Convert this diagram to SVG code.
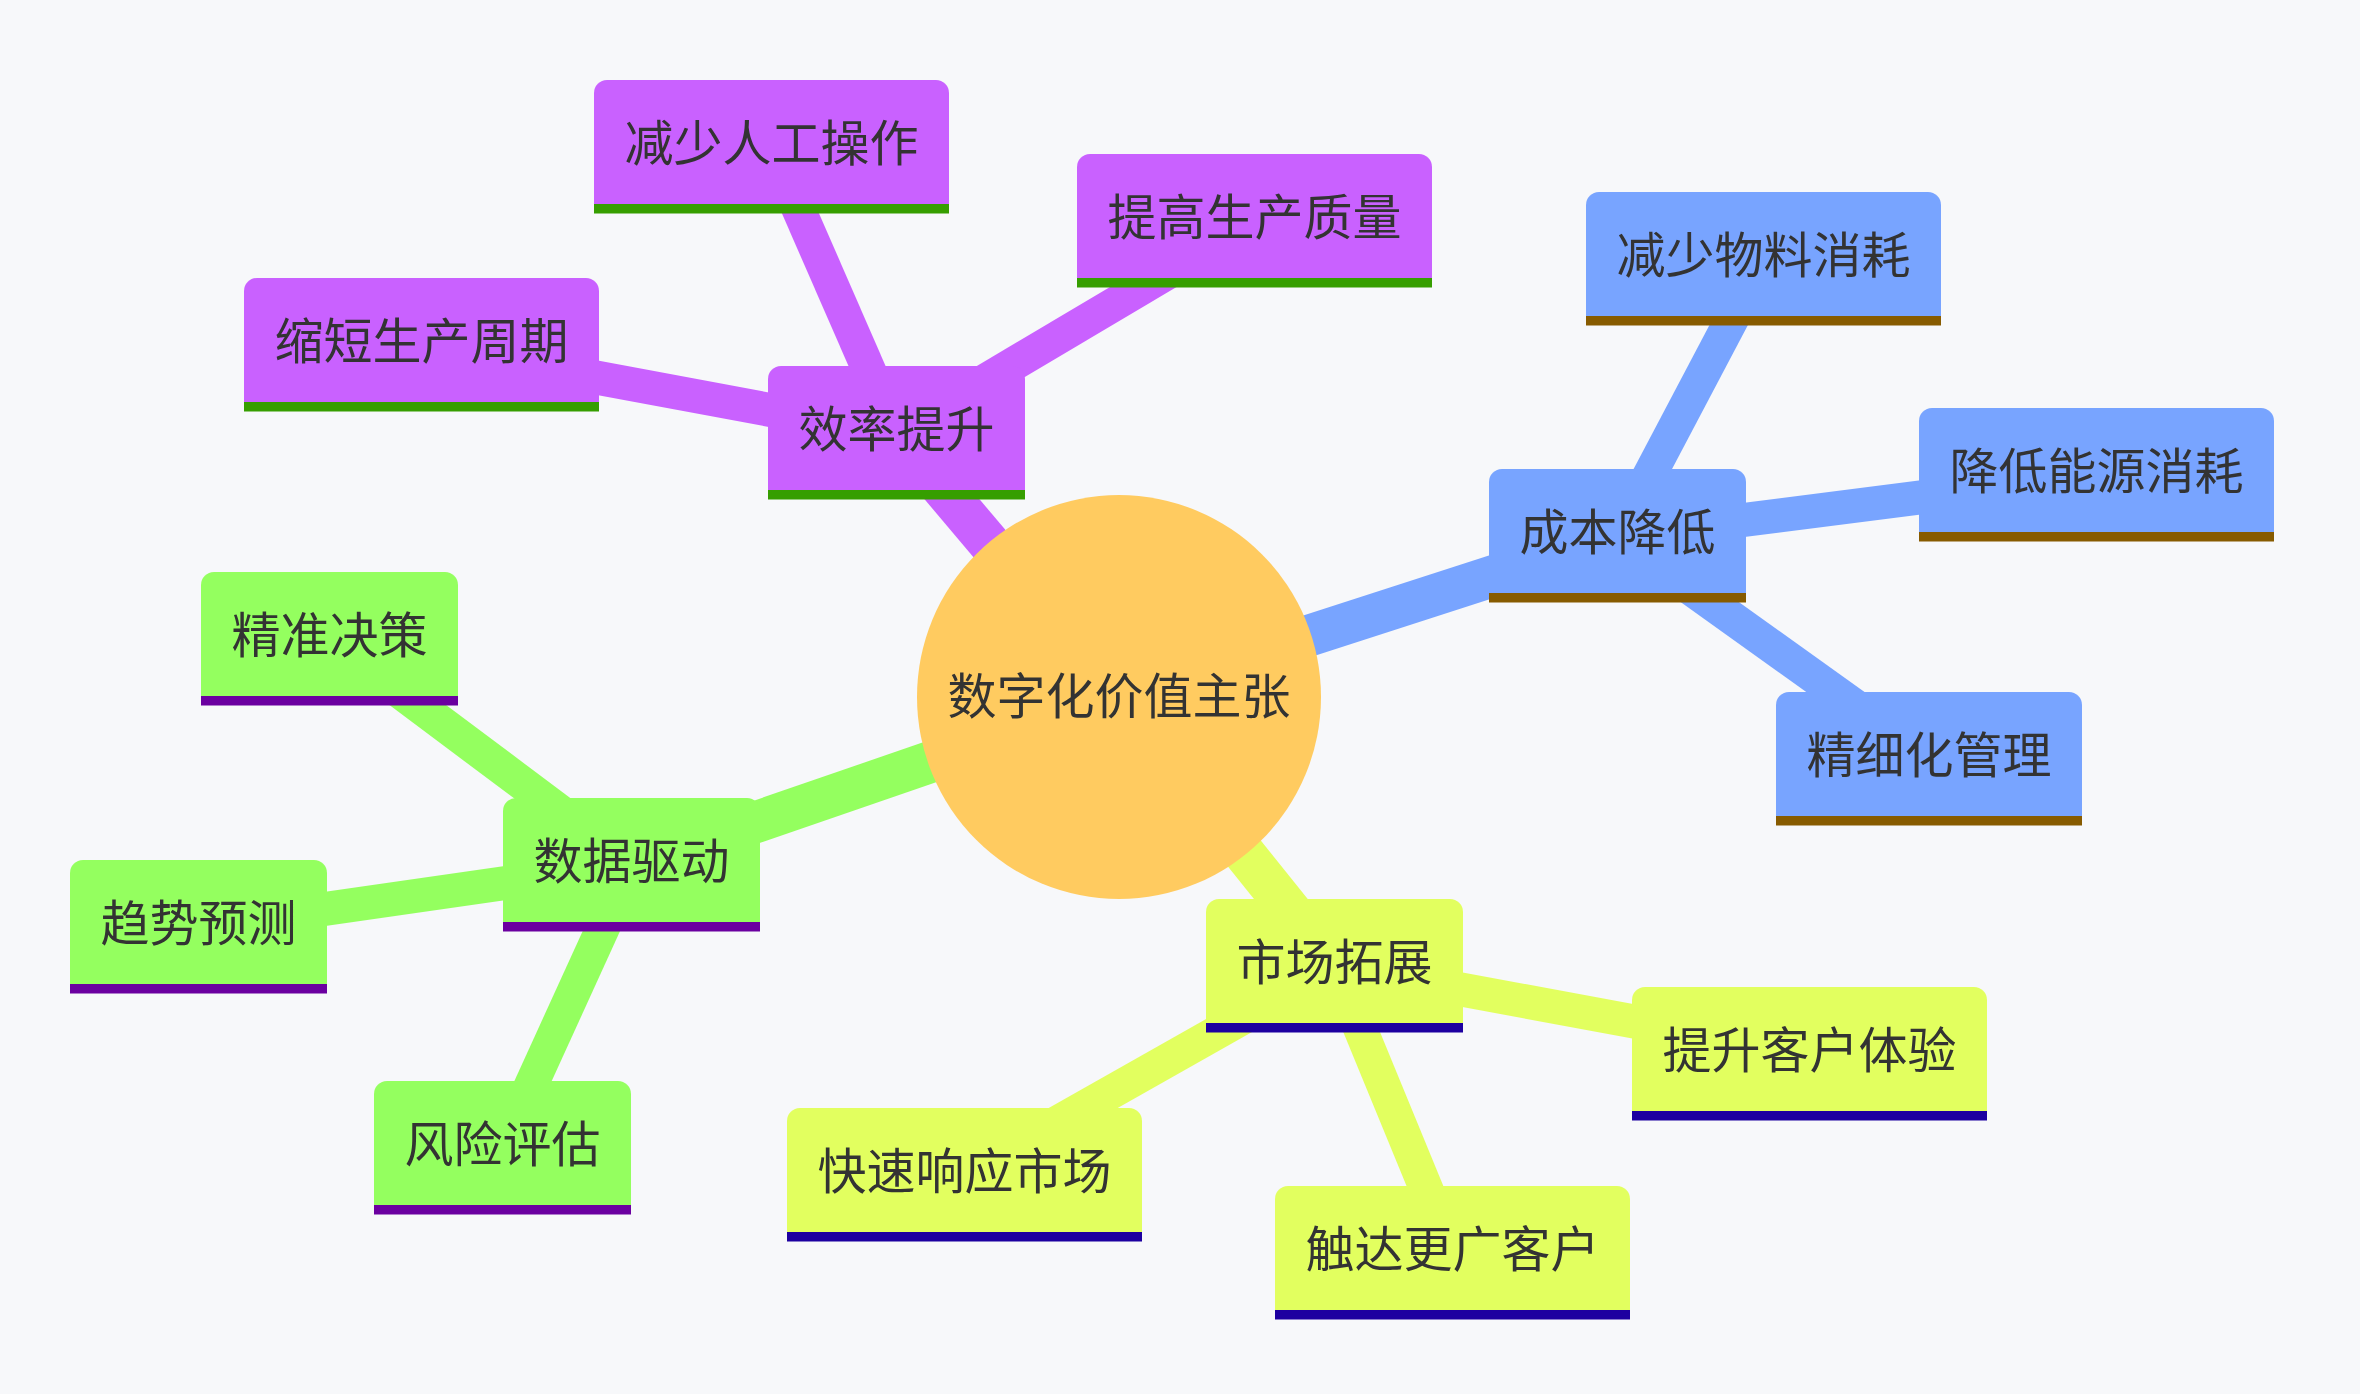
<svg xmlns="http://www.w3.org/2000/svg" width="2360" height="1394" viewBox="0 0 2360 1394">
<style>
  text { font-family: "Noto Sans CJK SC", "Noto Sans", sans-serif; font-size: 49px; fill: #333333; text-anchor: middle; dominant-baseline: central; }
  .e { fill: none; stroke-linecap: butt; }
  .d1 { stroke-width: 42; }
  .d2 { stroke-width: 34; }
  .sp { stroke: #C961FF; }
  .sb { stroke: #78A4FF; }
  .sg { stroke: #94FF5F; }
  .sy { stroke: #E2FF5F; }
  .fp { fill: #C961FF; }
  .fb { fill: #78A4FF; }
  .fg { fill: #94FF5F; }
  .fy { fill: #E2FF5F; }
  .bp { fill: #369E00; }
  .bb { fill: #875B00; }
  .bg { fill: #6B00A0; }
  .by { fill: #1D00A0; }
</style>
<rect x="0" y="0" width="2360" height="1394" fill="#F7F8FA"/>
<g id="connectors">
  <line class="e d1 sp" x1="1119" y1="697" x2="896.5" y2="433.5"/>
  <line class="e d1 sb" x1="1119" y1="697" x2="1617.5" y2="536"/>
  <line class="e d1 sg" x1="1119" y1="697" x2="631.5" y2="865"/>
  <line class="e d1 sy" x1="1119" y1="697" x2="1334.5" y2="966"/>
  <line class="e d2 sp" x1="896.5" y1="433.5" x2="771.5" y2="147"/>
  <line class="e d2 sp" x1="896.5" y1="433.5" x2="1254.5" y2="221"/>
  <line class="e d2 sp" x1="896.5" y1="433.5" x2="421.5" y2="345"/>
  <line class="e d2 sb" x1="1617.5" y1="536" x2="1763.5" y2="259"/>
  <line class="e d2 sb" x1="1617.5" y1="536" x2="2096.5" y2="475"/>
  <line class="e d2 sb" x1="1617.5" y1="536" x2="1929" y2="759"/>
  <line class="e d2 sg" x1="631.5" y1="865" x2="329.5" y2="639"/>
  <line class="e d2 sg" x1="631.5" y1="865" x2="198.5" y2="927"/>
  <line class="e d2 sg" x1="631.5" y1="865" x2="502.5" y2="1148"/>
  <line class="e d2 sy" x1="1334.5" y1="966" x2="1809.5" y2="1054"/>
  <line class="e d2 sy" x1="1334.5" y1="966" x2="964.5" y2="1175"/>
  <line class="e d2 sy" x1="1334.5" y1="966" x2="1452.5" y2="1253"/>
</g>
<g id="root">
  <circle cx="1119" cy="697" r="202" fill="#FFCB60"/>
  <text x="1119" y="692">数字化价值主张</text>
</g>
<g id="n-xiaolv" transform="translate(768,366)">
  <path class="fp" d="M0 124 V13 A13 13 0 0 1 13 0 H244 A13 13 0 0 1 257 13 V124 Z"/>
  <rect class="bp" x="0" y="124" width="257" height="9.5"/>
  <text x="128.5" y="59">效率提升</text>
</g>
<g id="n-jianshaorengong" transform="translate(594,80)">
  <path class="fp" d="M0 124 V13 A13 13 0 0 1 13 0 H342 A13 13 0 0 1 355 13 V124 Z"/>
  <rect class="bp" x="0" y="124" width="355" height="9.5"/>
  <text x="177.5" y="59">减少人工操作</text>
</g>
<g id="n-tigaozhiliang" transform="translate(1077,154)">
  <path class="fp" d="M0 124 V13 A13 13 0 0 1 13 0 H342 A13 13 0 0 1 355 13 V124 Z"/>
  <rect class="bp" x="0" y="124" width="355" height="9.5"/>
  <text x="177.5" y="59">提高生产质量</text>
</g>
<g id="n-suoduanzhouqi" transform="translate(244,278)">
  <path class="fp" d="M0 124 V13 A13 13 0 0 1 13 0 H342 A13 13 0 0 1 355 13 V124 Z"/>
  <rect class="bp" x="0" y="124" width="355" height="9.5"/>
  <text x="177.5" y="59">缩短生产周期</text>
</g>
<g id="n-chengben" transform="translate(1489,469)">
  <path class="fb" d="M0 124 V13 A13 13 0 0 1 13 0 H244 A13 13 0 0 1 257 13 V124 Z"/>
  <rect class="bb" x="0" y="124" width="257" height="9.5"/>
  <text x="128.5" y="59">成本降低</text>
</g>
<g id="n-wuliao" transform="translate(1586,192)">
  <path class="fb" d="M0 124 V13 A13 13 0 0 1 13 0 H342 A13 13 0 0 1 355 13 V124 Z"/>
  <rect class="bb" x="0" y="124" width="355" height="9.5"/>
  <text x="177.5" y="59">减少物料消耗</text>
</g>
<g id="n-nengyuan" transform="translate(1919,408)">
  <path class="fb" d="M0 124 V13 A13 13 0 0 1 13 0 H342 A13 13 0 0 1 355 13 V124 Z"/>
  <rect class="bb" x="0" y="124" width="355" height="9.5"/>
  <text x="177.5" y="59">降低能源消耗</text>
</g>
<g id="n-jingxihua" transform="translate(1776,692)">
  <path class="fb" d="M0 124 V13 A13 13 0 0 1 13 0 H293 A13 13 0 0 1 306 13 V124 Z"/>
  <rect class="bb" x="0" y="124" width="306" height="9.5"/>
  <text x="153" y="59">精细化管理</text>
</g>
<g id="n-shuju" transform="translate(503,798)">
  <path class="fg" d="M0 124 V13 A13 13 0 0 1 13 0 H244 A13 13 0 0 1 257 13 V124 Z"/>
  <rect class="bg" x="0" y="124" width="257" height="9.5"/>
  <text x="128.5" y="59">数据驱动</text>
</g>
<g id="n-jingzhun" transform="translate(201,572)">
  <path class="fg" d="M0 124 V13 A13 13 0 0 1 13 0 H244 A13 13 0 0 1 257 13 V124 Z"/>
  <rect class="bg" x="0" y="124" width="257" height="9.5"/>
  <text x="128.5" y="59">精准决策</text>
</g>
<g id="n-qushi" transform="translate(70,860)">
  <path class="fg" d="M0 124 V13 A13 13 0 0 1 13 0 H244 A13 13 0 0 1 257 13 V124 Z"/>
  <rect class="bg" x="0" y="124" width="257" height="9.5"/>
  <text x="128.5" y="59">趋势预测</text>
</g>
<g id="n-fengxian" transform="translate(374,1081)">
  <path class="fg" d="M0 124 V13 A13 13 0 0 1 13 0 H244 A13 13 0 0 1 257 13 V124 Z"/>
  <rect class="bg" x="0" y="124" width="257" height="9.5"/>
  <text x="128.5" y="59">风险评估</text>
</g>
<g id="n-shichang" transform="translate(1206,899)">
  <path class="fy" d="M0 124 V13 A13 13 0 0 1 13 0 H244 A13 13 0 0 1 257 13 V124 Z"/>
  <rect class="by" x="0" y="124" width="257" height="9.5"/>
  <text x="128.5" y="59">市场拓展</text>
</g>
<g id="n-tisheng" transform="translate(1632,987)">
  <path class="fy" d="M0 124 V13 A13 13 0 0 1 13 0 H342 A13 13 0 0 1 355 13 V124 Z"/>
  <rect class="by" x="0" y="124" width="355" height="9.5"/>
  <text x="177.5" y="59">提升客户体验</text>
</g>
<g id="n-kuaisu" transform="translate(787,1108)">
  <path class="fy" d="M0 124 V13 A13 13 0 0 1 13 0 H342 A13 13 0 0 1 355 13 V124 Z"/>
  <rect class="by" x="0" y="124" width="355" height="9.5"/>
  <text x="177.5" y="59">快速响应市场</text>
</g>
<g id="n-chuda" transform="translate(1275,1186)">
  <path class="fy" d="M0 124 V13 A13 13 0 0 1 13 0 H342 A13 13 0 0 1 355 13 V124 Z"/>
  <rect class="by" x="0" y="124" width="355" height="9.5"/>
  <text x="177.5" y="59">触达更广客户</text>
</g>
</svg>
